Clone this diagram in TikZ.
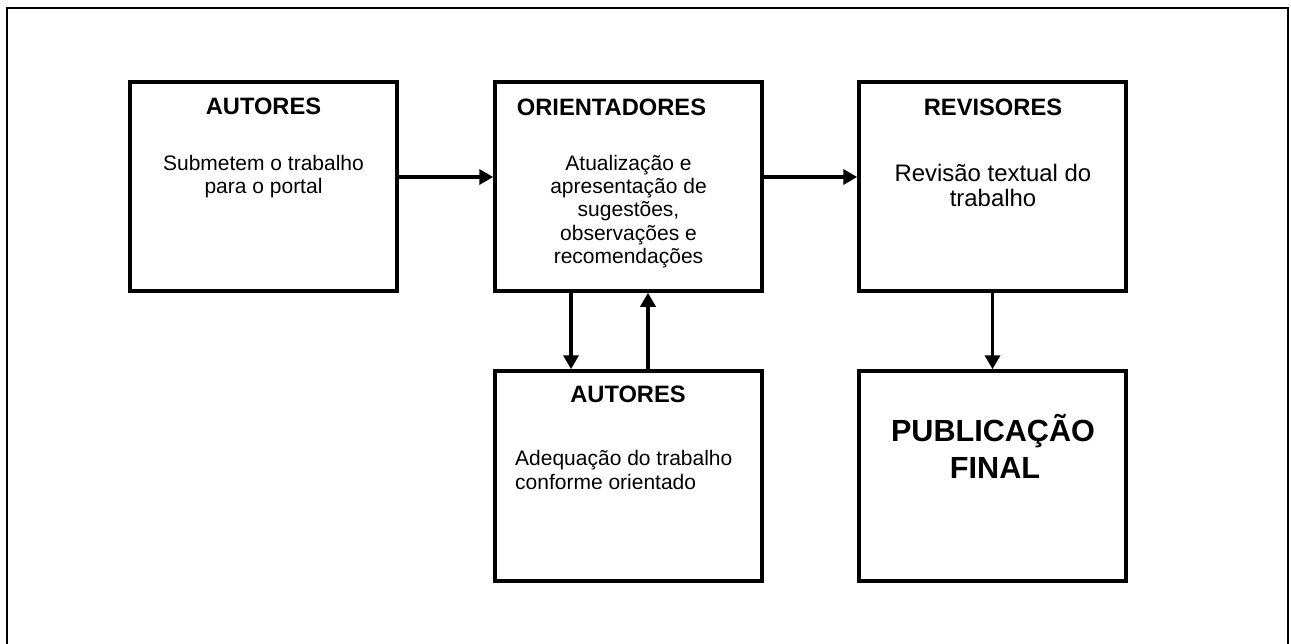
\documentclass[tikz,border=0pt]{standalone}
\usepackage{fontspec}
\setmainfont{Liberation Sans}
\usetikzlibrary{arrows.meta}
\begin{document}
\begin{tikzpicture}[x=1pt,y=-1pt,
 box/.style={draw,line width=3.5pt,minimum width=267pt,minimum height=209pt,inner sep=0pt},
 ttl/.style={anchor=base,font=\bfseries\fontsize{23.7}{27}\selectfont,inner sep=0pt},
 big/.style={anchor=base,font=\bfseries\fontsize{30.6}{36}\selectfont,inner sep=0pt},
 txt/.style={anchor=base,font=\fontsize{21}{23.3}\selectfont,inner sep=0pt},
 txtb/.style={anchor=base,font=\fontsize{23.9}{25}\selectfont,inner sep=0pt},
 arr/.style={line width=3.5pt,-{Triangle[length=14pt,width=15pt]}}]
\useasboundingbox (0,0) rectangle (1291,643);
\draw[line width=2pt] (7,8) rectangle (1288,690);
% boxes
\node[box] (a1) at (263.5,186.5) {};
\node[box] (or) at (628.5,186.5) {};
\node[box] (rv) at (992.5,186.5) {};
\node[box,minimum height=210pt] (a2) at (628.5,476) {};
\node[box,minimum height=210pt] (pf) at (992.5,476) {};
% texts
\node[ttl] (a1t) at (263.5,114.3) {AUTORES};
\node[txt] (a1l1) at (263.5,170) {Submetem o trabalho};
\node[txt] (a1l2) at (263.5,193.3) {para o portal};
\node[ttl,anchor=base west] (ort) at (516.7,115) {ORIENTADORES};
\node[txt] (orl1) at (628.5,170) {Atualização e};
\node[txt] (orl2) at (628.5,193.3) {apresentação de};
\node[txt] (orl3) at (628.5,216.7) {sugestões,};
\node[txt] (orl4) at (628.5,240) {observações e};
\node[txt] (orl5) at (628.5,263.3) {recomendações};
\node[ttl] (rvt) at (993,115) {REVISORES};
\node[txtb] (rvl1) at (993,181.7) {Revisão textual do};
\node[txtb] (rvl2) at (993,206.7) {trabalho};
\node[ttl] (a2t) at (628,402.7) {AUTORES};
\node[txt,anchor=base west] (a2l1) at (515,465) {Adequação do trabalho};
\node[txt,anchor=base west] (a2l2) at (515,489.3) {conforme orientado};
\node[big] (pfl1) at (993,441.7) {PUBLICAÇÃO};
\node[big] (pfl2) at (995,478.3) {FINAL};
% arrows
\draw[arr] ([yshift=9.5pt]a1.east) -- ([yshift=9.5pt]or.west);
\draw[arr] ([yshift=9.5pt]or.east) -- ([yshift=9.5pt]rv.west);
\draw[arr] ([xshift=-57.5pt]or.south) -- ([xshift=-57.5pt]a2.north);
\draw[arr] ([xshift=19.5pt]a2.north) -- ([xshift=19.5pt]or.south);
\draw[arr] (rv.south) -- (pf.north);
\end{tikzpicture}
\end{document}
